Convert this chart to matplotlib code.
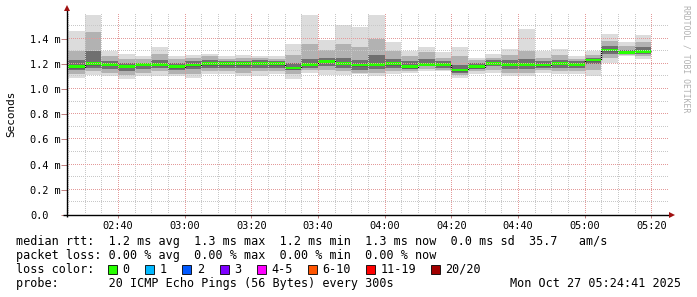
import matplotlib
matplotlib.use("Agg")
import matplotlib.pyplot as plt
from matplotlib.patches import Rectangle
from matplotlib.ticker import FixedLocator

# ---------------- data (milliseconds) ----------------
bar_start_hhmm = "02:25"          # first 5-minute interval
step_minutes = 5
rtt_median = [1.176, 1.200, 1.195, 1.180, 1.195, 1.195, 1.176, 1.190, 1.200, 1.200,
              1.200, 1.205, 1.200, 1.166, 1.195, 1.220, 1.205, 1.190, 1.197, 1.200,
              1.176, 1.197, 1.197, 1.150, 1.176, 1.205, 1.195, 1.197, 1.190, 1.205,
              1.197, 1.230, 1.310, 1.290, 1.300]
rtt_min = [1.09, 1.11, 1.10, 1.08, 1.10, 1.10, 1.10, 1.09, 1.12, 1.12,
           1.10, 1.10, 1.12, 1.08, 1.13, 1.11, 1.11, 1.12, 1.10, 1.12,
           1.13, 1.14, 1.14, 1.09, 1.12, 1.13, 1.10, 1.10, 1.13, 1.12,
           1.12, 1.10, 1.21, 1.26, 1.24]
rtt_max = [1.46, 1.59, 1.30, 1.28, 1.26, 1.33, 1.26, 1.27, 1.28, 1.26,
           1.27, 1.26, 1.26, 1.36, 1.59, 1.39, 1.51, 1.49, 1.59, 1.37,
           1.30, 1.33, 1.29, 1.33, 1.25, 1.28, 1.32, 1.48, 1.30, 1.32,
           1.26, 1.30, 1.44, 1.37, 1.43]
rtt_p10 = [1.12, 1.14, 1.13, 1.11, 1.13, 1.14, 1.12, 1.12, 1.14, 1.14,
           1.13, 1.14, 1.14, 1.12, 1.15, 1.15, 1.14, 1.13, 1.13, 1.14,
           1.14, 1.16, 1.15, 1.11, 1.14, 1.15, 1.13, 1.13, 1.15, 1.14,
           1.14, 1.15, 1.25, 1.27, 1.26]
rtt_p25 = [1.15, 1.17, 1.16, 1.14, 1.16, 1.17, 1.15, 1.16, 1.17, 1.17,
           1.17, 1.17, 1.17, 1.15, 1.17, 1.18, 1.17, 1.15, 1.16, 1.17,
           1.16, 1.18, 1.17, 1.13, 1.16, 1.18, 1.16, 1.16, 1.17, 1.17,
           1.17, 1.20, 1.28, 1.28, 1.28]
rtt_p75 = [1.23, 1.30, 1.22, 1.21, 1.21, 1.23, 1.21, 1.22, 1.23, 1.22,
           1.22, 1.23, 1.22, 1.21, 1.24, 1.25, 1.25, 1.23, 1.27, 1.24,
           1.22, 1.24, 1.22, 1.19, 1.21, 1.23, 1.23, 1.24, 1.22, 1.23,
           1.22, 1.25, 1.34, 1.31, 1.33]
rtt_p90 = [1.30, 1.45, 1.26, 1.24, 1.24, 1.28, 1.24, 1.25, 1.26, 1.24,
           1.25, 1.25, 1.24, 1.27, 1.36, 1.31, 1.36, 1.33, 1.40, 1.30,
           1.26, 1.29, 1.25, 1.26, 1.23, 1.25, 1.27, 1.30, 1.25, 1.27,
           1.24, 1.27, 1.38, 1.34, 1.37]

x_tick_labels = ["02:40", "03:00", "03:20", "03:40", "04:00", "04:20", "04:40", "05:00", "05:20"]
y_tick_values = [0.0, 0.2, 0.4, 0.6, 0.8, 1.0, 1.2, 1.4]
y_tick_labels = ["0.0", "0.2 m", "0.4 m", "0.6 m", "0.8 m", "1.0 m", "1.2 m", "1.4 m"]

loss_labels = ["0", "1", "2", "3", "4-5", "6-10", "11-19", "20/20"]
loss_colors = ["#26ff00", "#00b8ff", "#0059ff", "#7e00ff", "#ff00ff", "#ff5500", "#ff0000", "#a10000"]

legend_lines = [
    "median rtt:  1.2 ms avg  1.3 ms max  1.2 ms min  1.3 ms now  0.0 ms sd  35.7   am/s",
    "packet loss: 0.00 % avg  0.00 % max  0.00 % min  0.00 % now",
    "loss color:",
    "probe:       20 ICMP Echo Pings (56 Bytes) every 300s",
]
timestamp = "Mon Oct 27 05:24:41 2025"
watermark = "RRDTOOL / TOBI OETIKER"
y_label = "Seconds"

# ---------------- helpers ----------------
W, H = 697, 297
MONO = "DejaVu Sans Mono"


def hhmm_to_min(s):
    h, m = s.split(":")
    return int(h) * 60 + int(m)


def fx(px):
    return px / W


def fy(py):
    return 1 - py / H


t_end = 5 * 60 + 24 + 41 / 60.0
t_start = t_end - 180.0
n = len(rtt_median)
x0 = hhmm_to_min(bar_start_hhmm)
xs = [x0 + i * step_minutes for i in range(n)]
edges = xs + [xs[-1] + step_minutes]

fig = plt.figure(figsize=(W / 100, H / 100), dpi=100)
fig.patch.set_facecolor("white")
ax_left, ax_right, ax_bottom, ax_top = 67, 667, 215, 13.4
ax = fig.add_axes([fx(ax_left), fy(ax_bottom), (ax_right - ax_left) / W, (ax_bottom - ax_top) / H])
ax.set_facecolor("white")
y_max = 1.6
ax.set_xlim(t_start, t_end)
ax.set_ylim(0, y_max)

# smoke layers
layers = [(rtt_min, rtt_max, "#dcdcdc"),
          (rtt_p10, rtt_p90, "#b2b2b2"),
          (rtt_p25, rtt_p75, "#707070")]
for lo, hi, col in layers:
    ax.bar(xs, [h - l for l, h in zip(lo, hi)], bottom=lo, width=step_minutes,
           align="edge", color=col, linewidth=0, zorder=1)

# median: black step line + green band
ax.stairs(rtt_median, edges, baseline=None, color="#000000", linewidth=0.9, zorder=2)
band = 0.022
ax.bar(xs, [band] * n, bottom=[m - band / 2 for m in rtt_median], width=step_minutes,
       align="edge", color=loss_colors[0], linewidth=0, zorder=3)

# dotted grid drawn pixel by pixel (on top of the data, like rrdtool)
px_w = (ax_right - ax_left)
px_h = (ax_bottom - ax_top)
min_per_px = 180.0 / px_w
val_per_px = y_max / px_h
minor_col = "#c8c8c8"
major_col = "#e39a9a"
xmaj = [hhmm_to_min(s) for s in x_tick_labels]


def vdots(t, col):
    k = int(px_h // 2)
    ax.plot([t] * k, [i * 2 * val_per_px for i in range(1, k + 1)], ",", color=col,
            zorder=4, antialiased=False)


def hdots(v, col):
    k = int(px_w // 2)
    ax.plot([t_start + i * 2 * min_per_px for i in range(1, k + 1)], [v] * k, ",", color=col,
            zorder=4, antialiased=False)


for t in range(145, 325, 5):
    if t not in xmaj and t_start < t < t_end:
        vdots(t, minor_col)
for t in xmaj:
    vdots(t, major_col)
for k in range(1, 16):
    if k % 2 == 1:
        hdots(k / 10, minor_col)
for v in y_tick_values[1:]:
    hdots(v, major_col)

# ticks
ax.xaxis.set_major_locator(FixedLocator(xmaj))
ax.set_xticklabels(x_tick_labels)
ax.yaxis.set_major_locator(FixedLocator(y_tick_values))
ax.set_yticklabels(y_tick_labels)
ax.tick_params(axis="x", length=2, width=0.72, color="#c08080", pad=2.5, labelsize=7.4)
ax.tick_params(axis="y", length=4, width=0.72, color="#c08080", labelsize=7.4)
for lab in ax.get_xticklabels() + ax.get_yticklabels():
    lab.set_fontfamily(MONO)
for lab in ax.get_yticklabels():
    lab.set_horizontalalignment("left")
# left edge of y tick labels at x = 30 px
ax.yaxis.set_tick_params(pad=(ax_left - 30) * 0.72 - 4)

for s in ax.spines.values():
    s.set_visible(False)

# axis lines and arrows
axis_col = "#000000"
ax.plot([-0.006, 1.006], [0, 0], transform=ax.transAxes, color=axis_col, lw=1.0,
        clip_on=False, zorder=6, solid_capstyle="butt")
ax.plot([0, 0], [-0.012, 1.02], transform=ax.transAxes, color=axis_col, lw=1.0,
        clip_on=False, zorder=6, solid_capstyle="butt")
arrow_col = "#a01010"
ax.plot([0], [1.028], marker="^", markersize=4.2, color=arrow_col, transform=ax.transAxes,
        clip_on=False, zorder=7, markeredgewidth=0)
ax.plot([1.008], [0], marker=">", markersize=4.2, color=arrow_col, transform=ax.transAxes,
        clip_on=False, zorder=7, markeredgewidth=0)

# y label
fig.text(fx(11), fy(114), y_label, rotation=90, ha="center", va="center",
         fontsize=7.9, family=MONO, color="#000000")

# watermark
fig.text(fx(686), fy(5), watermark, rotation=-90, ha="center", va="top",
         fontsize=5.9, family=MONO, color="#b0b0b0")

# legend text
fs_leg = 8.5
x_leg = 16.5
baselines = [245, 259, 273, 287]
for line, yb in zip(legend_lines, baselines):
    fig.text(fx(x_leg), fy(yb), line, ha="left", va="baseline", fontsize=fs_leg,
             family=MONO, color="#000000")
fig.text(fx(681), fy(baselines[3]), timestamp, ha="right", va="baseline",
         fontsize=fs_leg, family=MONO, color="#000000")

box_x = [108.1, 145.0, 182.3, 219.7, 257.0, 307.8, 365.6, 430.5]
box_size = 9
for bx, lab, col in zip(box_x, loss_labels, loss_colors):
    fig.patches.append(Rectangle((fx(bx), fy(269 + box_size / 2)), box_size / W, box_size / H,
                                 transform=fig.transFigure, facecolor=col,
                                 edgecolor="#000000", linewidth=0.6))
    fig.text(fx(bx + 14.6), fy(baselines[2]), lab, ha="left", va="baseline", fontsize=fs_leg,
             family=MONO, color="#000000")

fig.savefig("out.png", dpi=100, facecolor="white")
